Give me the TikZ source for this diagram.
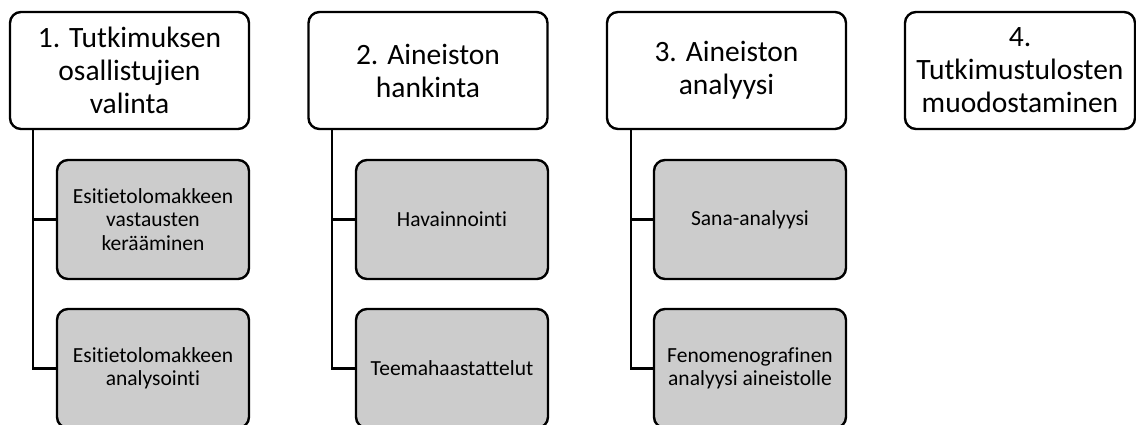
\documentclass[tikz,border=0pt]{standalone}
\usepackage{fontspec}
\setmainfont{Carlito}[Ligatures=NoCommon]
\definecolor{stepgrey}{RGB}{204,204,204}
\begin{document}
\begin{tikzpicture}[x=1pt,y=-1pt,
  every node/.style={inner sep=0pt, outer sep=0pt},
  phase/.style={draw=black, line width=2.4pt, rounded corners=11pt, fill=white,
    minimum width=239pt, minimum height=117pt, align=center,
    font=\fontsize{29.5}{33}\selectfont},
  task/.style={draw=black, line width=2.4pt, rounded corners=11pt, fill=stepgrey,
    minimum width=192pt, minimum height=119pt, align=center,
    font=\fontsize{21.5}{23.5}\selectfont},
  link/.style={draw=black, line width=2.4pt}]
\clip (0,0) rectangle (1136,425);
\fill[white] (0,0) rectangle (1136,425);

% phase boxes
\node[phase] (p1) at (129.5,70.5) {1. Tutkimuksen\\osallistujien\\valinta};
\node[phase] (p2) at (428,70.5) {2. Aineiston\\hankinta};
\node[phase] (p3) at (726.5,70.5) {3. Aineiston\\analyysi};
\node[phase, minimum width=230pt] (p4) at (1020,70.5) {4.\\Tutkimustulosten\\muodostaminen};

% sub-steps
\node[task] (t11) at (153,219.5) {Esitietolomakkeen\\vastausten\\kerääminen};
\node[task] (t12) at (153,368.5) {Esitietolomakkeen\\analysointi};
\node[task] (t21) at (452,219.5) {Havainnointi};
\node[task] (t22) at (452,368.5) {Teemahaastattelut};
\node[task] (t31) at (750,219.5) {Sana-analyysi};
\node[task] (t32) at (750,368.5) {Fenomenografinen\\analyysi aineistolle};

% spines from each phase down to its sub-steps
\coordinate (s1) at (33,129);
\coordinate (s2) at (332,129);
\coordinate (s3) at (631,129);
\draw[link] (s1) |- (t12.west);
\draw[link] (s1 |- t11.west) -- (t11.west);
\draw[link] (s2) |- (t22.west);
\draw[link] (s2 |- t21.west) -- (t21.west);
\draw[link] (s3) |- (t32.west);
\draw[link] (s3 |- t31.west) -- (t31.west);
\end{tikzpicture}
\end{document}
